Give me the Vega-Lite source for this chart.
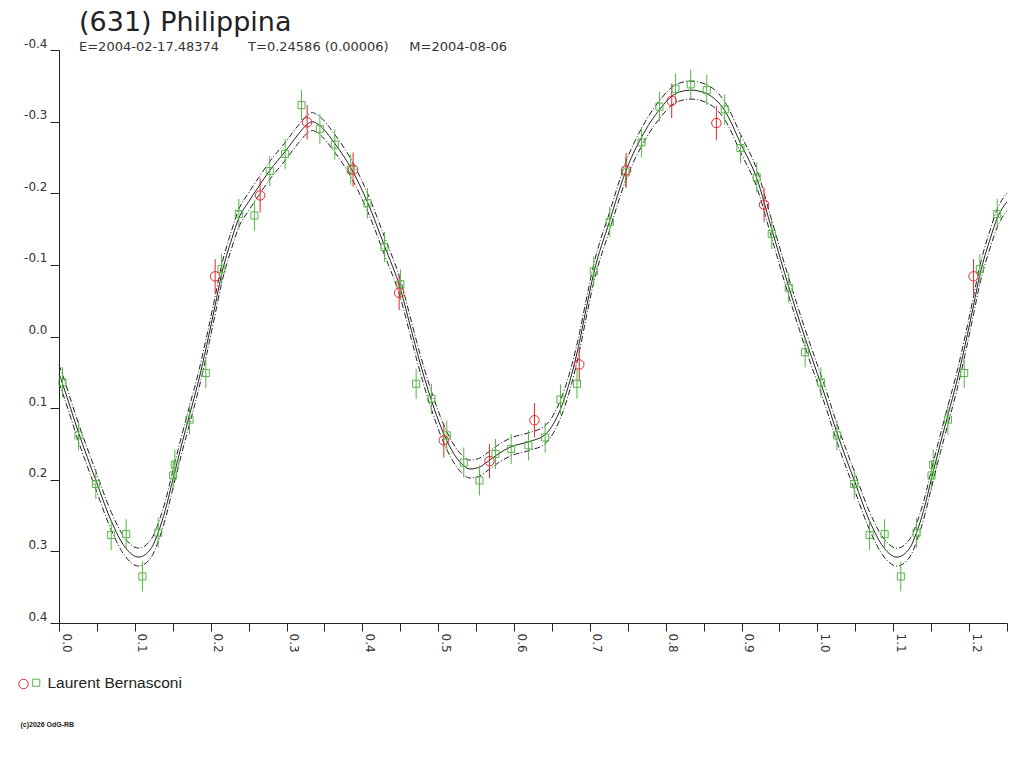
{
  "$schema": "https://vega.github.io/schema/vega-lite/v6.json",
  "width": 948,
  "height": 573,
  "autosize": "none",
  "padding": {"left": 59, "top": 50, "right": 17, "bottom": 145},
  "background": "white",
  "title": {
    "text": "(631) Philippina",
    "subtitle": "E=2004-02-17.48374\u00a0\u00a0\u00a0\u00a0\u00a0\u00a0\u00a0T=0.24586 (0.00006)\u00a0\u00a0\u00a0\u00a0\u00a0M=2004-08-06",
    "anchor": "start",
    "frame": "group",
    "dx": 20,
    "offset": -18,
    "font": "DejaVu Sans",
    "fontSize": 27,
    "fontWeight": "normal",
    "color": "#222222",
    "subtitleFont": "DejaVu Sans",
    "subtitleFontSize": 13,
    "subtitleColor": "#333333",
    "subtitlePadding": 4
  },
  "datasets": {
    "obs": [
      {"phase": 0.0046, "mag": 0.064, "err": 0.021, "kind": "s"},
      {"phase": 0.0257, "mag": 0.138, "err": 0.021, "kind": "s"},
      {"phase": 0.0486, "mag": 0.206, "err": 0.021, "kind": "s"},
      {"phase": 0.0688, "mag": 0.277, "err": 0.021, "kind": "s"},
      {"phase": 0.0886, "mag": 0.276, "err": 0.021, "kind": "s"},
      {"phase": 0.110, "mag": 0.335, "err": 0.021, "kind": "s"},
      {"phase": 0.1308, "mag": 0.274, "err": 0.021, "kind": "s"},
      {"phase": 0.1505, "mag": 0.194, "err": 0.021, "kind": "s"},
      {"phase": 0.1527, "mag": 0.179, "err": 0.021, "kind": "s"},
      {"phase": 0.1721, "mag": 0.116, "err": 0.021, "kind": "s"},
      {"phase": 0.1936, "mag": 0.051, "err": 0.021, "kind": "s"},
      {"phase": 0.2142, "mag": -0.094, "err": 0.021, "kind": "s"},
      {"phase": 0.2371, "mag": -0.171, "err": 0.021, "kind": "s"},
      {"phase": 0.2577, "mag": -0.169, "err": 0.021, "kind": "s"},
      {"phase": 0.2779, "mag": -0.231, "err": 0.021, "kind": "s"},
      {"phase": 0.2982, "mag": -0.255, "err": 0.021, "kind": "s"},
      {"phase": 0.3197, "mag": -0.323, "err": 0.021, "kind": "s"},
      {"phase": 0.344, "mag": -0.290, "err": 0.021, "kind": "s"},
      {"phase": 0.3636, "mag": -0.268, "err": 0.021, "kind": "s"},
      {"phase": 0.3847, "mag": -0.233, "err": 0.021, "kind": "s"},
      {"phase": 0.4067, "mag": -0.186, "err": 0.021, "kind": "s"},
      {"phase": 0.4291, "mag": -0.125, "err": 0.021, "kind": "s"},
      {"phase": 0.4502, "mag": -0.073, "err": 0.021, "kind": "s"},
      {"phase": 0.4709, "mag": 0.066, "err": 0.021, "kind": "s"},
      {"phase": 0.4911, "mag": 0.087, "err": 0.021, "kind": "s"},
      {"phase": 0.5113, "mag": 0.138, "err": 0.021, "kind": "s"},
      {"phase": 0.5337, "mag": 0.176, "err": 0.021, "kind": "s"},
      {"phase": 0.5544, "mag": 0.201, "err": 0.021, "kind": "s"},
      {"phase": 0.5755, "mag": 0.164, "err": 0.021, "kind": "s"},
      {"phase": 0.5962, "mag": 0.157, "err": 0.021, "kind": "s"},
      {"phase": 0.6190, "mag": 0.152, "err": 0.021, "kind": "s"},
      {"phase": 0.6410, "mag": 0.141, "err": 0.021, "kind": "s"},
      {"phase": 0.6612, "mag": 0.088, "err": 0.021, "kind": "s"},
      {"phase": 0.683, "mag": 0.066, "err": 0.021, "kind": "s"},
      {"phase": 0.7051, "mag": -0.091, "err": 0.021, "kind": "s"},
      {"phase": 0.7262, "mag": -0.160, "err": 0.021, "kind": "s"},
      {"phase": 0.7473, "mag": -0.229, "err": 0.021, "kind": "s"},
      {"phase": 0.7680, "mag": -0.271, "err": 0.021, "kind": "s"},
      {"phase": 0.7917, "mag": -0.321, "err": 0.021, "kind": "s"},
      {"phase": 0.8128, "mag": -0.346, "err": 0.021, "kind": "s"},
      {"phase": 0.8330, "mag": -0.352, "err": 0.021, "kind": "s"},
      {"phase": 0.8541, "mag": -0.344, "err": 0.021, "kind": "s"},
      {"phase": 0.8778, "mag": -0.317, "err": 0.021, "kind": "s"},
      {"phase": 0.8985, "mag": -0.263, "err": 0.021, "kind": "s"},
      {"phase": 0.9200, "mag": -0.222, "err": 0.021, "kind": "s"},
      {"phase": 0.9398, "mag": -0.143, "err": 0.021, "kind": "s"},
      {"phase": 0.9622, "mag": -0.068, "err": 0.021, "kind": "s"},
      {"phase": 0.9838, "mag": 0.022, "err": 0.021, "kind": "s"},
      {"phase": 1.0046, "mag": 0.064, "err": 0.021, "kind": "s"},
      {"phase": 1.0257, "mag": 0.138, "err": 0.021, "kind": "s"},
      {"phase": 1.0486, "mag": 0.206, "err": 0.021, "kind": "s"},
      {"phase": 1.0688, "mag": 0.277, "err": 0.021, "kind": "s"},
      {"phase": 1.0886, "mag": 0.276, "err": 0.021, "kind": "s"},
      {"phase": 1.110, "mag": 0.335, "err": 0.021, "kind": "s"},
      {"phase": 1.1308, "mag": 0.274, "err": 0.021, "kind": "s"},
      {"phase": 1.1505, "mag": 0.194, "err": 0.021, "kind": "s"},
      {"phase": 1.1527, "mag": 0.179, "err": 0.021, "kind": "s"},
      {"phase": 1.1721, "mag": 0.116, "err": 0.021, "kind": "s"},
      {"phase": 1.1936, "mag": 0.051, "err": 0.021, "kind": "s"},
      {"phase": 1.2142, "mag": -0.094, "err": 0.021, "kind": "s"},
      {"phase": 1.2371, "mag": -0.171, "err": 0.021, "kind": "s"},
      {"phase": 0.2059, "mag": -0.084, "err": 0.024, "kind": "c"},
      {"phase": 0.2652, "mag": -0.197, "err": 0.024, "kind": "c"},
      {"phase": 0.3272, "mag": -0.299, "err": 0.024, "kind": "c"},
      {"phase": 0.3878, "mag": -0.233, "err": 0.024, "kind": "c"},
      {"phase": 0.4485, "mag": -0.061, "err": 0.024, "kind": "c"},
      {"phase": 0.5074, "mag": 0.145, "err": 0.024, "kind": "c"},
      {"phase": 0.5676, "mag": 0.174, "err": 0.024, "kind": "c"},
      {"phase": 0.6269, "mag": 0.117, "err": 0.024, "kind": "c"},
      {"phase": 0.686, "mag": 0.039, "err": 0.024, "kind": "c"},
      {"phase": 0.7478, "mag": -0.232, "err": 0.024, "kind": "c"},
      {"phase": 0.8079, "mag": -0.329, "err": 0.024, "kind": "c"},
      {"phase": 0.8668, "mag": -0.298, "err": 0.024, "kind": "c"},
      {"phase": 0.9297, "mag": -0.184, "err": 0.024, "kind": "c"},
      {"phase": 1.2059, "mag": -0.084, "err": 0.024, "kind": "c"}
    ],
    "fit": [
      {"phase": 0.000, "fit": 0.052, "lo": 0.0395, "hi": 0.0645},
      {"phase": 0.005, "fit": 0.067, "lo": 0.0545, "hi": 0.0795},
      {"phase": 0.026, "fit": 0.135, "lo": 0.1225, "hi": 0.1475},
      {"phase": 0.049, "fit": 0.202, "lo": 0.1895, "hi": 0.2145},
      {"phase": 0.069, "fit": 0.258, "lo": 0.2455, "hi": 0.2705},
      {"phase": 0.087, "fit": 0.294, "lo": 0.2815, "hi": 0.3065},
      {"phase": 0.105, "fit": 0.308, "lo": 0.2955, "hi": 0.3205},
      {"phase": 0.122, "fit": 0.295, "lo": 0.2825, "hi": 0.3075},
      {"phase": 0.131, "fit": 0.273, "lo": 0.2605, "hi": 0.2855},
      {"phase": 0.140, "fit": 0.243, "lo": 0.2305, "hi": 0.2555},
      {"phase": 0.151, "fit": 0.196, "lo": 0.1835, "hi": 0.2085},
      {"phase": 0.162, "fit": 0.150, "lo": 0.1375, "hi": 0.1625},
      {"phase": 0.172, "fit": 0.110, "lo": 0.0975, "hi": 0.1225},
      {"phase": 0.184, "fit": 0.062, "lo": 0.0495, "hi": 0.0745},
      {"phase": 0.195, "fit": 0.011, "lo": -0.0015, "hi": 0.0235},
      {"phase": 0.206, "fit": -0.044, "lo": -0.0565, "hi": -0.0315},
      {"phase": 0.214, "fit": -0.085, "lo": -0.0975, "hi": -0.0725},
      {"phase": 0.228, "fit": -0.137, "lo": -0.1495, "hi": -0.1245},
      {"phase": 0.237, "fit": -0.165, "lo": -0.1775, "hi": -0.1525},
      {"phase": 0.250, "fit": -0.188, "lo": -0.2005, "hi": -0.1755},
      {"phase": 0.263, "fit": -0.209, "lo": -0.2215, "hi": -0.1965},
      {"phase": 0.278, "fit": -0.232, "lo": -0.2445, "hi": -0.2195},
      {"phase": 0.298, "fit": -0.258, "lo": -0.2705, "hi": -0.2455},
      {"phase": 0.316, "fit": -0.283, "lo": -0.2955, "hi": -0.2705},
      {"phase": 0.327, "fit": -0.296, "lo": -0.3085, "hi": -0.2835},
      {"phase": 0.334, "fit": -0.300, "lo": -0.3125, "hi": -0.2875},
      {"phase": 0.342, "fit": -0.296, "lo": -0.3085, "hi": -0.2835},
      {"phase": 0.364, "fit": -0.269, "lo": -0.2815, "hi": -0.2565},
      {"phase": 0.385, "fit": -0.235, "lo": -0.2475, "hi": -0.2225},
      {"phase": 0.407, "fit": -0.187, "lo": -0.1995, "hi": -0.1745},
      {"phase": 0.429, "fit": -0.127, "lo": -0.1395, "hi": -0.1145},
      {"phase": 0.450, "fit": -0.067, "lo": -0.0795, "hi": -0.0545},
      {"phase": 0.465, "fit": -0.007, "lo": -0.0195, "hi": 0.0055},
      {"phase": 0.474, "fit": 0.029, "lo": 0.0165, "hi": 0.0415},
      {"phase": 0.491, "fit": 0.089, "lo": 0.0765, "hi": 0.1015},
      {"phase": 0.505, "fit": 0.130, "lo": 0.1175, "hi": 0.1425},
      {"phase": 0.518, "fit": 0.159, "lo": 0.1465, "hi": 0.1715},
      {"phase": 0.531, "fit": 0.178, "lo": 0.1655, "hi": 0.1905},
      {"phase": 0.542, "fit": 0.185, "lo": 0.1725, "hi": 0.1975},
      {"phase": 0.553, "fit": 0.183, "lo": 0.1705, "hi": 0.1955},
      {"phase": 0.566, "fit": 0.174, "lo": 0.1615, "hi": 0.1865},
      {"phase": 0.579, "fit": 0.164, "lo": 0.1515, "hi": 0.1765},
      {"phase": 0.596, "fit": 0.154, "lo": 0.1415, "hi": 0.1665},
      {"phase": 0.619, "fit": 0.147, "lo": 0.1345, "hi": 0.1595},
      {"phase": 0.641, "fit": 0.137, "lo": 0.1245, "hi": 0.1495},
      {"phase": 0.654, "fit": 0.118, "lo": 0.1055, "hi": 0.1305},
      {"phase": 0.667, "fit": 0.085, "lo": 0.0725, "hi": 0.0975},
      {"phase": 0.676, "fit": 0.053, "lo": 0.0405, "hi": 0.0655},
      {"phase": 0.685, "fit": 0.014, "lo": 0.0015, "hi": 0.0265},
      {"phase": 0.695, "fit": -0.038, "lo": -0.0505, "hi": -0.0255},
      {"phase": 0.705, "fit": -0.088, "lo": -0.1005, "hi": -0.0755},
      {"phase": 0.726, "fit": -0.161, "lo": -0.1735, "hi": -0.1485},
      {"phase": 0.747, "fit": -0.230, "lo": -0.2425, "hi": -0.2175},
      {"phase": 0.768, "fit": -0.278, "lo": -0.2905, "hi": -0.2655},
      {"phase": 0.792, "fit": -0.317, "lo": -0.3295, "hi": -0.3045},
      {"phase": 0.813, "fit": -0.339, "lo": -0.3515, "hi": -0.3265},
      {"phase": 0.833, "fit": -0.344, "lo": -0.3565, "hi": -0.3315},
      {"phase": 0.854, "fit": -0.339, "lo": -0.3515, "hi": -0.3265},
      {"phase": 0.878, "fit": -0.315, "lo": -0.3275, "hi": -0.3025},
      {"phase": 0.899, "fit": -0.269, "lo": -0.2815, "hi": -0.2565},
      {"phase": 0.920, "fit": -0.221, "lo": -0.2335, "hi": -0.2085},
      {"phase": 0.940, "fit": -0.149, "lo": -0.1615, "hi": -0.1365},
      {"phase": 0.962, "fit": -0.070, "lo": -0.0825, "hi": -0.0575},
      {"phase": 0.984, "fit": 0.003, "lo": -0.0095, "hi": 0.0155},
      {"phase": 1.000, "fit": 0.052, "lo": 0.0395, "hi": 0.0645},
      {"phase": 1.005, "fit": 0.067, "lo": 0.0545, "hi": 0.0795},
      {"phase": 1.026, "fit": 0.135, "lo": 0.1225, "hi": 0.1475},
      {"phase": 1.049, "fit": 0.202, "lo": 0.1895, "hi": 0.2145},
      {"phase": 1.069, "fit": 0.258, "lo": 0.2455, "hi": 0.2705},
      {"phase": 1.087, "fit": 0.294, "lo": 0.2815, "hi": 0.3065},
      {"phase": 1.105, "fit": 0.308, "lo": 0.2955, "hi": 0.3205},
      {"phase": 1.122, "fit": 0.295, "lo": 0.2825, "hi": 0.3075},
      {"phase": 1.131, "fit": 0.273, "lo": 0.2605, "hi": 0.2855},
      {"phase": 1.140, "fit": 0.243, "lo": 0.2305, "hi": 0.2555},
      {"phase": 1.151, "fit": 0.196, "lo": 0.1835, "hi": 0.2085},
      {"phase": 1.162, "fit": 0.150, "lo": 0.1375, "hi": 0.1625},
      {"phase": 1.172, "fit": 0.110, "lo": 0.0975, "hi": 0.1225},
      {"phase": 1.184, "fit": 0.062, "lo": 0.0495, "hi": 0.0745},
      {"phase": 1.195, "fit": 0.011, "lo": -0.0015, "hi": 0.0235},
      {"phase": 1.206, "fit": -0.044, "lo": -0.0565, "hi": -0.0315},
      {"phase": 1.214, "fit": -0.085, "lo": -0.0975, "hi": -0.0725},
      {"phase": 1.228, "fit": -0.137, "lo": -0.1495, "hi": -0.1245},
      {"phase": 1.237, "fit": -0.165, "lo": -0.1775, "hi": -0.1525},
      {"phase": 1.250, "fit": -0.188, "lo": -0.2005, "hi": -0.1755}
    ]
  },
  "encoding": {
    "x": {
      "field": "phase",
      "type": "quantitative",
      "scale": {"domain": [0, 1.25], "nice": false, "zero": false},
      "axis": {
        "values": [0, 0.05, 0.1, 0.15, 0.2, 0.25, 0.3, 0.35, 0.4, 0.45, 0.5, 0.55, 0.6, 0.65, 0.7, 0.75, 0.8, 0.85, 0.9, 0.95, 1.0, 1.05, 1.1, 1.15, 1.2, 1.25],
        "labelExpr": "round(datum.value * 100) % 10 == 0 ? format(datum.value, '.1f') : ''",
        "tickSize": 8,
        "labelAngle": 90,
        "labelAlign": "left",
        "labelBaseline": "bottom",
        "labelPadding": 2,
        "labelOverlap": false,
        "labelFlush": false,
        "title": "(c)2026 OdG-RB",
        "titleX": -39,
        "titleY": 101,
        "titleAngle": 0,
        "titleAlign": "left",
        "titleBaseline": "middle",
        "titleFont": "Liberation Sans",
        "titleFontSize": 7,
        "titleFontWeight": "bold",
        "titleColor": "#222222"
      }
    }
  },
  "layer": [
    {
      "data": {"name": "fit"},
      "mark": {"type": "line", "color": "#222222", "strokeWidth": 1, "strokeDash": [6, 2, 1, 2], "interpolate": "monotone"},
      "encoding": {
        "y": {
          "field": "lo",
          "type": "quantitative",
          "scale": {"domain": [-0.4, 0.4], "reverse": true, "nice": false, "zero": false},
          "axis": {
            "values": [-0.4, -0.3, -0.2, -0.1, 0, 0.1, 0.2, 0.3, 0.4],
            "labelExpr": "(datum.value < -0.001 ? '-' : '') + format(abs(datum.value), '.1f')",
            "tickSize": 9,
            "labelPadding": 3,
            "labelBaseline": "alphabetic",
            "labelOffset": -3,
            "title": null
          }
        }
      }
    },
    {
      "data": {"name": "fit"},
      "mark": {"type": "line", "color": "#222222", "strokeWidth": 1, "strokeDash": [6, 2, 1, 2], "interpolate": "monotone"},
      "encoding": {"y": {"field": "hi", "type": "quantitative"}}
    },
    {
      "data": {"name": "fit"},
      "mark": {"type": "line", "color": "#222222", "strokeWidth": 1, "interpolate": "monotone"},
      "encoding": {"y": {"field": "fit", "type": "quantitative"}}
    },
    {
      "data": {"name": "obs"},
      "mark": {"type": "errorbar", "thickness": 1},
      "encoding": {
        "y": {"field": "mag", "type": "quantitative"},
        "yError": {"field": "err"},
        "stroke": {"field": "kind", "type": "nominal", "scale": {"domain": ["c", "s"], "range": ["#e8262d", "#56b447"]}, "legend": null}
      }
    },
    {
      "data": {"name": "obs"},
      "mark": {"type": "point", "filled": false, "strokeWidth": 1, "opacity": 1},
      "encoding": {
        "y": {"field": "mag", "type": "quantitative"},
        "size": {"field": "kind", "type": "nominal", "scale": {"domain": ["c", "s"], "range": [90, 50]}, "legend": null},
        "shape": {
          "field": "kind",
          "type": "nominal",
          "scale": {"domain": ["s", "c"], "range": ["square", "circle"]},
          "legend": {
            "orient": "none",
            "legendX": -30.5,
            "legendY": 625,
            "values": ["s"],
            "title": null,
            "padding": 0,
            "labelExpr": "'Laurent Bernasconi'",
            "labelFont": "Liberation Sans",
            "labelFontSize": 15.5,
            "labelColor": "#222222",
            "labelOffset": 3.5,
            "symbolSize": 50,
            "symbolStrokeWidth": 1,
            "symbolStrokeColor": "#56b447",
            "symbolFillColor": "transparent"
          }
        },
        "color": {
          "field": "kind",
          "type": "nominal",
          "scale": {"domain": ["c", "s"], "range": ["#e8262d", "#56b447"]},
          "legend": {
            "orient": "none",
            "legendX": -41,
            "legendY": 628.5,
            "values": ["c"],
            "title": null,
            "padding": 0,
            "labelExpr": "''",
            "labelOffset": 0,
            "symbolType": "circle",
            "symbolSize": 90,
            "symbolStrokeWidth": 1
          }
        }
      }
    }
  ],
  "resolve": {"scale": {"stroke": "independent"}},
  "config": {
    "view": {"stroke": null},
    "font": "DejaVu Sans",
    "axis": {
      "grid": false,
      "domainColor": "#222222",
      "tickColor": "#222222",
      "labelColor": "#333333",
      "labelFont": "DejaVu Sans",
      "labelFontSize": 12,
      "titleFont": "DejaVu Sans"
    },
    "legend": {"labelFont": "Liberation Sans"}
  }
}
